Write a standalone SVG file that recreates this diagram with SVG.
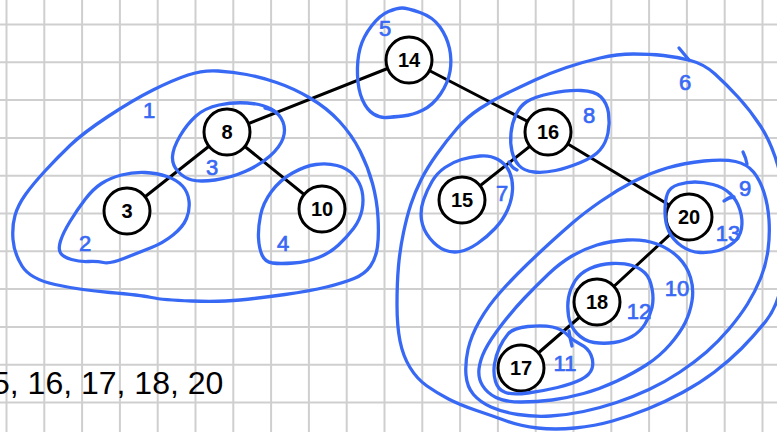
<svg xmlns="http://www.w3.org/2000/svg" width="777" height="432" viewBox="0 0 777 432">
  <style>
    .grid { stroke: #cfcfcf; stroke-width: 2; fill: none; }
    .edge { stroke: #000; stroke-width: 3; stroke-linecap: round; }
    .node circle { fill: #fff; stroke: #000; stroke-width: 3; }
    .node text { font-family: "Liberation Sans", Arial, sans-serif; font-weight: bold; font-size: 20px; text-anchor: middle; fill: #000; }
    .loop { fill: none; stroke: #3869f5; stroke-width: 3.3; stroke-linecap: round; stroke-linejoin: round; }
    .num { font-family: "Liberation Sans", Arial, sans-serif; font-size: 22px; text-anchor: middle; fill: #3869f5; stroke: #3869f5; stroke-width: 0.7; }
    .seq { font-family: "Liberation Sans", Arial, sans-serif; font-size: 32px; fill: #000; }
  </style>

  <rect width="777" height="432" fill="#fff"/>

  <!-- squared paper -->
  <path class="grid" d="M6.5,0V432 M44.3,0V432 M82.1,0V432 M119.9,0V432 M157.7,0V432 M195.5,0V432 M233.3,0V432 M271.1,0V432 M308.9,0V432 M346.7,0V432 M384.5,0V432 M422.3,0V432 M460.1,0V432 M497.9,0V432 M535.7,0V432 M573.5,0V432 M611.3,0V432 M649.1,0V432 M686.9,0V432 M724.7,0V432 M762.5,0V432
    M0,24.5H777 M0,62.3H777 M0,100.1H777 M0,137.9H777 M0,175.7H777 M0,213.5H777 M0,251.3H777 M0,289.1H777 M0,326.9H777 M0,364.7H777 M0,402.5H777"/>

  <!-- tree edges -->
  <g id="edges">
    <line class="edge" x1="409" y1="60" x2="227" y2="132"/>
    <line class="edge" x1="409" y1="60" x2="548" y2="132"/>
    <line class="edge" x1="227" y1="132" x2="127" y2="211"/>
    <line class="edge" x1="227" y1="132" x2="322" y2="209"/>
    <line class="edge" x1="548" y1="132" x2="462" y2="200"/>
    <line class="edge" x1="548" y1="132" x2="689" y2="217"/>
    <line class="edge" x1="689" y1="217" x2="597" y2="302"/>
    <line class="edge" x1="597" y1="302" x2="521" y2="368"/>
  </g>

  <!-- tree nodes -->
  <g id="node-14" class="node"><circle cx="409" cy="60" r="23"/><text x="409" y="67">14</text></g>
  <g id="node-8" class="node"><circle cx="227" cy="132" r="23"/><text x="227" y="139">8</text></g>
  <g id="node-3" class="node"><circle cx="127" cy="211" r="23"/><text x="127" y="218">3</text></g>
  <g id="node-10" class="node"><circle cx="322" cy="209" r="23"/><text x="322" y="216">10</text></g>
  <g id="node-16" class="node"><circle cx="548" cy="132" r="23"/><text x="548" y="139">16</text></g>
  <g id="node-15" class="node"><circle cx="462" cy="200" r="23"/><text x="462" y="207">15</text></g>
  <g id="node-20" class="node"><circle cx="689" cy="217" r="23"/><text x="689" y="224">20</text></g>
  <g id="node-18" class="node"><circle cx="597" cy="302" r="23"/><text x="597" y="309">18</text></g>
  <g id="node-17" class="node"><circle cx="521" cy="368" r="23"/><text x="521" y="375">17</text></g>

  <!-- subtree outlines, numbered in traversal order -->
  <g id="outlines">
    <g id="outline-1">
      <path class="loop" d="M246.5,74.5 Q260,77 276.5,82.5 Q293,88 310,98 Q327,108 339.5,121.5 Q352,135 360,151 Q368,167 372.5,183.5 Q377,200 378,217.5 Q379,235 377.5,246.5 Q376,258 370.5,266 Q365,274 354,278.5 Q343,283 326.5,287 Q310,291 285,294.5 Q260,298 240,300 Q220,302 191.5,301 Q163,300 151.5,297.5 Q140,295 110,292.5 Q80,290 55,284.5 Q30,279 22,266 Q14,253 13,239.5 Q12,226 15,215.5 Q18,205 25.5,194.5 Q33,184 45,171 Q57,158 70,145.5 Q83,133 108,116.5 Q133,100 153,90 Q173,80 188,75 Q203,70 218,71 Q233,72 246.5,74.5 Z"/>
      <text class="num" x="149" y="118">1</text>
    </g>
    <g id="outline-2">
      <path class="loop" d="M121.5,175 Q133,172 145,172.5 Q157,173 167,176.5 Q177,180 182.5,186 Q188,192 189,201 Q190,210 186.5,218.5 Q183,227 173,235 Q163,243 151.5,247.5 Q140,252 125,258 Q110,264 103.5,262.5 Q97,261 88.5,261.5 Q80,262 71.5,259.5 Q63,257 60.5,253 Q58,249 60.5,241 Q63,233 70,221.5 Q77,210 85,199.5 Q93,189 101.5,183.5 Q110,178 121.5,175 Z"/>
      <text class="num" x="85" y="251">2</text>
    </g>
    <g id="outline-3">
      <path class="loop" d="M219,105 Q233,102 247.5,103 Q262,104 271,109 Q280,114 283,122 Q286,130 283,138.5 Q280,147 270,156 Q260,165 245,171.5 Q230,178 215,180 Q200,182 192,180 Q184,178 178,171.5 Q172,165 172.5,156.5 Q173,148 180,136 Q187,124 196,116 Q205,108 219,105 Z"/>
      <path class="loop" d="M265,108 Q272,109 277,113"/>
      <text class="num" x="212" y="175">3</text>
    </g>
    <g id="outline-4">
      <path class="loop" d="M316,164.5 Q327,163 337,165.5 Q347,168 353.5,175 Q360,182 362,191 Q364,200 362,210 Q360,220 353.5,228.5 Q347,237 338.5,245 Q330,253 318.5,257.5 Q307,262 293.5,263 Q280,264 272.5,263 Q265,262 262,255 Q259,248 258.5,238 Q258,228 260.5,215.5 Q263,203 271.5,191.5 Q280,180 292.5,173 Q305,166 316,164.5 Z"/>
      <text class="num" x="283" y="251">4</text>
    </g>
    <g id="outline-5">
      <path class="loop" d="M402,8 Q407,8 420,12.5 Q433,17 440,27 Q447,37 449.5,48.5 Q452,60 450,71.5 Q448,83 440.5,94 Q433,105 423,110 Q413,115 403,116 Q393,117 386.5,117.5 Q380,118 373.5,114 Q367,110 362.5,100 Q358,90 357.5,75 Q357,60 360,48.5 Q363,37 371.5,26 Q380,15 388.5,11.5 Q397,8 402,8 Z"/>
      <text class="num" x="385" y="36">5</text>
    </g>
    <g id="outline-6">
      <path class="loop" d="M506.5,93.5 Q520,87 535,80 Q550,73 566.5,67.5 Q583,62 600,58 Q617,54 633.5,54 Q650,54 663.5,55.5 Q677,57 690.5,60.5 Q704,64 715,74 Q726,84 738,97 Q750,110 760.5,126 Q771,142 778,166 Q785,190 786.5,220 Q788,250 783,278 Q778,306 766,321 Q754,336 741.5,348.5 Q729,361 714.5,372 Q700,383 682.5,392.5 Q665,402 647.5,409 Q630,416 612.5,421 Q595,426 575,428 Q555,430 537.5,428 Q520,426 506.5,421 Q493,416 476.5,410.5 Q460,405 448.5,399 Q437,393 427,386 Q417,379 410,367.5 Q403,356 400,341 Q397,326 397,304.5 Q397,283 398.5,266 Q400,249 403.5,232.5 Q407,216 411,204 Q415,192 421,180 Q427,168 437,154 Q447,140 457,128.5 Q467,117 480,108.5 Q493,100 506.5,93.5 Z"/>
      <path class="loop" d="M679,48 Q684,54 689,60"/>
      <text class="num" x="685" y="90">6</text>
    </g>
    <g id="outline-7">
      <path class="loop" d="M498,159.5 Q490,155 480,156 Q470,157 461.5,159.5 Q453,162 445,167.5 Q437,173 432,181.5 Q427,190 423.5,200 Q420,210 421.5,220 Q423,230 430,238.5 Q437,247 444.5,250 Q452,253 460,251.5 Q468,250 477.5,243.5 Q487,237 495,228.5 Q503,220 507.5,210 Q512,200 512.5,190 Q513,180 509.5,172 Q506,164 498,159.5 Z"/>
      <path class="loop" d="M509,162 Q512,168 517,170"/>
      <text class="num" x="502" y="201">7</text>
    </g>
    <g id="outline-8">
      <path class="loop" d="M527,101.5 Q534,97 550.5,93.5 Q567,90 581,90.5 Q595,91 601,97 Q607,103 608.5,113 Q610,123 608,133 Q606,143 600,150 Q594,157 580.5,162.5 Q567,168 555.5,170.5 Q544,173 534,172 Q524,171 519,165.5 Q514,160 512,151.5 Q510,143 511,133 Q512,123 516,114.5 Q520,106 527,101.5 Z"/>
      <text class="num" x="589" y="123">8</text>
    </g>
    <g id="outline-9">
      <path class="loop" d="M573,222.5 Q584,213 600.5,201.5 Q617,190 633.5,181.5 Q650,173 667,168 Q684,163 704,161 Q724,159 735.5,161.5 Q747,164 753.5,172 Q760,180 764,192.5 Q768,205 769,220 Q770,235 768,250 Q766,265 760.5,278.5 Q755,292 747.5,304 Q740,316 729,329 Q718,342 706.5,352 Q695,362 680,372 Q665,382 649,389.5 Q633,397 616.5,402.5 Q600,408 583.5,411.5 Q567,415 550.5,416 Q534,417 518,414.5 Q502,412 491,407 Q480,402 473.5,394.5 Q467,387 466,375 Q465,363 468,349.5 Q471,336 479.5,321 Q488,306 500.5,292 Q513,278 526.5,265 Q540,252 551,242 Q562,232 573,222.5 Z"/>
      <path class="loop" d="M743,152 Q746,158 747,164"/>
      <text class="num" x="745" y="196">9</text>
    </g>
    <g id="outline-10">
      <path class="loop" d="M548.5,274 Q560,263 572,256 Q584,249 597,245 Q610,241 627,240 Q644,239 657,244 Q670,249 678.5,257.5 Q687,266 690.5,277.5 Q694,289 692,301 Q690,313 685,323 Q680,333 670,344.5 Q660,356 647,364.5 Q634,373 617,381 Q600,389 583.5,393.5 Q567,398 552,400 Q537,402 521,402 Q505,402 496,397.5 Q487,393 482.5,385.5 Q478,378 479,369 Q480,360 485,350 Q490,340 501.5,325 Q513,310 525,297.5 Q537,285 548.5,274 Z"/>
      <text class="num" x="677" y="296">10</text>
    </g>
    <g id="outline-11">
      <path class="loop" d="M508,334 Q513,328 528,326.5 Q543,325 552.5,327 Q562,329 567,334.5 Q572,340 580,344 Q588,348 591,355 Q594,362 592,368.5 Q590,375 581,379.5 Q572,384 557.5,387.5 Q543,391 528,393 Q513,395 505.5,392.5 Q498,390 495.5,381.5 Q493,373 494.5,364 Q496,355 499.5,347.5 Q503,340 508,334 Z"/>
      <path class="loop" d="M569,331 Q570,339 572,346"/>
      <text class="num" x="565" y="371">11</text>
    </g>
    <g id="outline-12">
      <path class="loop" d="M575,281 Q580,273 590,268.5 Q600,264 612,263.5 Q624,263 632,265.5 Q640,268 645,273 Q650,278 652,288.5 Q654,299 652,307.5 Q650,316 645,324 Q640,332 632,336.5 Q624,341 614,342.5 Q604,344 594,342.5 Q584,341 577,333.5 Q570,326 568.5,316 Q567,306 568.5,297.5 Q570,289 575,281 Z"/>
      <text class="num" x="639" y="319">12</text>
    </g>
    <g id="outline-13">
      <path class="loop" d="M667.5,193.5 Q670,187 678.5,184.5 Q687,182 695,182 Q703,182 713,184.5 Q723,187 730,193.5 Q737,200 740,210 Q743,220 741.5,228.5 Q740,237 733.5,242.5 Q727,248 718.5,250.5 Q710,253 700,252.5 Q690,252 681.5,246 Q673,240 669,231.5 Q665,223 665,211.5 Q665,200 667.5,193.5 Z"/>
      <path class="loop" d="M724,201 Q729,197 734,197"/>
      <text class="num" x="728" y="241">13</text>
    </g>
  </g>

  <!-- in-order listing -->
  <text class="seq" x="-8" y="394">5, 16, 17, 18, 20</text>
</svg>
